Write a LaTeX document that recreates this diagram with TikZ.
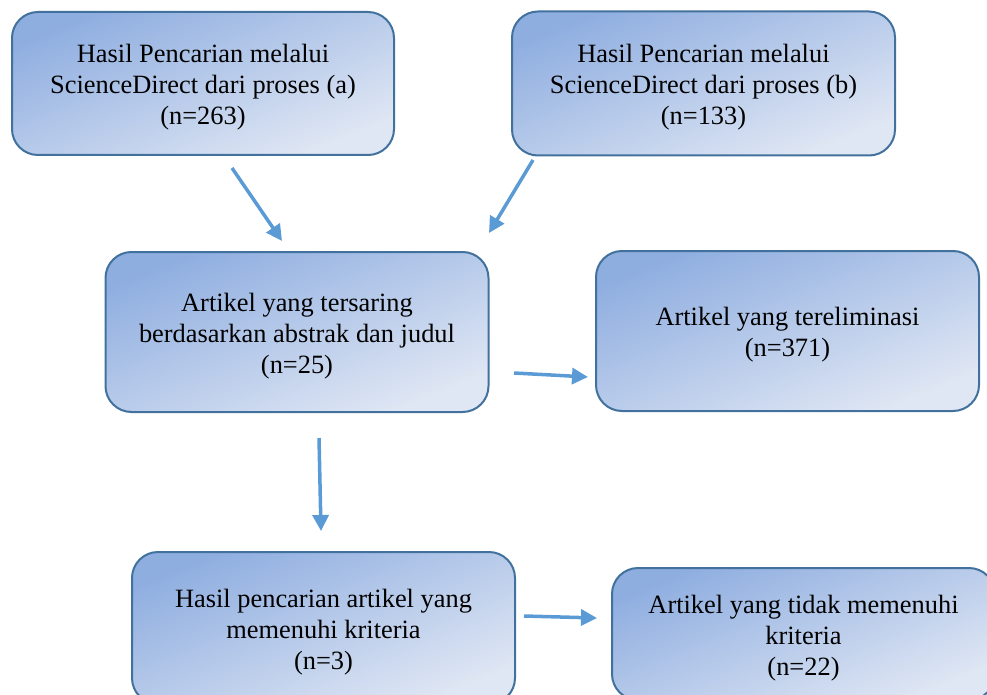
\documentclass[tikz,border=0pt]{standalone}
\usepackage{fontspec}
\setmainfont{Liberation Serif}
\usetikzlibrary{arrows.meta}
\definecolor{boxedge}{HTML}{41719C}
\definecolor{boxdark}{HTML}{8FAEE0}
\definecolor{boxlight}{HTML}{E0E7F4}
\definecolor{arrowblue}{HTML}{5B9BD5}
\newcommand\toppad{\rule{0pt}{26.5pt}}
\tikzset{
  flowbox/.style={draw=boxedge, line width=2pt, rounded corners=26pt,
    top color=boxdark, bottom color=boxlight, shading angle=22,
    align=center, font=\fontsize{26.4}{31}\selectfont, text=black,
    inner sep=0pt},
  flowarrow/.style={draw=arrowblue, line width=3.5pt,
    -{Triangle[length=16pt,width=16pt]}}
}
\begin{document}
\begin{tikzpicture}[x=1pt,y=-1pt]
\useasboundingbox (0,0) rectangle (987,695);
\node[flowbox, minimum width=382pt, minimum height=143pt] (A) at (203,83.5)
  {\toppad Hasil Pencarian melalui\\ScienceDirect dari proses (a)\\(n=263)};
\node[flowbox, minimum width=383pt, minimum height=144pt] (B) at (703.5,83.5)
  {\toppad Hasil Pencarian melalui\\ScienceDirect dari proses (b)\\(n=133)};
\node[flowbox, minimum width=383pt, minimum height=160pt] (C) at (297,332)
  {\toppad Artikel yang tersaring\\berdasarkan abstrak dan judul\\(n=25)};
\node[flowbox, minimum width=383pt, minimum height=160pt] (D) at (787.5,331)
  {\toppad Artikel yang tereliminasi\\(n=371)};
\node[flowbox, minimum width=383pt, minimum height=152pt] (E) at (323.5,628)
  {\toppad Hasil pencarian artikel yang\\memenuhi kriteria\\(n=3)};
\node[flowbox, minimum width=383pt, minimum height=132pt] (F) at (803.5,634)
  {\toppad Artikel yang tidak memenuhi\\kriteria\\(n=22)};
\coordinate (a1s) at (232,168); \coordinate (a1e) at (282,241);
\coordinate (a2s) at (533,160); \coordinate (a2e) at (489,233);
\coordinate (a3s) at (514,373); \coordinate (a3e) at (588,377);
\coordinate (a4s) at (319,438); \coordinate (a4e) at (321,531);
\coordinate (a5s) at (524,616); \coordinate (a5e) at (597,618);
\draw[flowarrow] (a1s) -- (a1e);
\draw[flowarrow] (a2s) -- (a2e);
\draw[flowarrow] (a3s) -- (a3e);
\draw[flowarrow] (a4s) -- (a4e);
\draw[flowarrow] (a5s) -- (a5e);
\end{tikzpicture}
\end{document}
